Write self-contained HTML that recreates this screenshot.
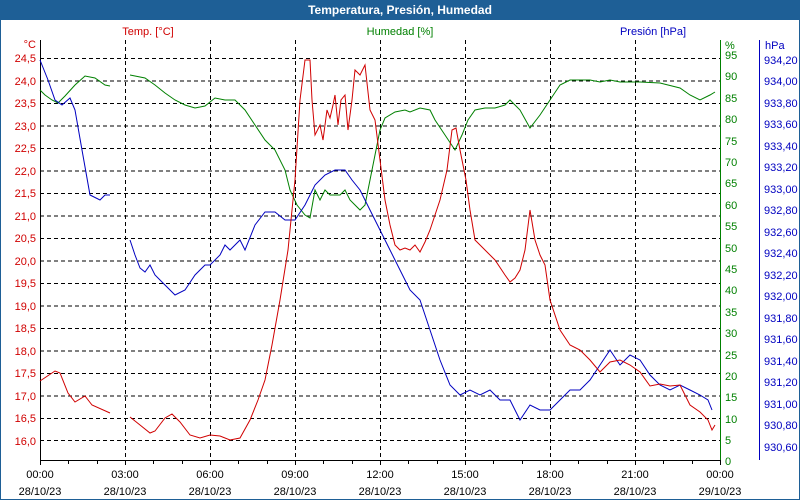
<!DOCTYPE html>
<html><head><meta charset="utf-8"><style>
html,body{margin:0;padding:0;background:#fff}
svg{display:block;font-family:"Liberation Sans","DejaVu Sans",sans-serif}
</style></head><body>
<svg width="800" height="500" viewBox="0 0 800 500" xmlns="http://www.w3.org/2000/svg">
<rect x="0" y="0" width="800" height="500" fill="#fff"/>
<rect x="0.5" y="0.5" width="799" height="499" fill="none" stroke="#1e5f96"/>
<rect x="0" y="0" width="800" height="20" fill="#1e5f96"/>
<text x="400" y="14" font-size="12" font-weight="bold" fill="#fff" text-anchor="middle">Temperatura, Presión, Humedad</text>
<g stroke="#000" stroke-dasharray="4,3" stroke-width="1" fill="none">
<path d="M40 58.5H720M40 81H720M40 103.5H720M40 126H720M40 148.5H720M40 171H720M40 193.5H720M40 216H720M40 238.5H720M40 261H720M40 283.5H720M40 306H720M40 328.5H720M40 351H720M40 373.5H720M40 396H720M40 418.5H720M40 440.5H720"/>
<path d="M125.5 40V460M210.5 40V460M295.5 40V460M380.5 40V460M465.5 40V460M550.5 40V460M635.5 40V460"/>
</g>
<g stroke="#000" stroke-width="1" fill="none">
<path d="M40.5 40V460.5H720"/>
<path d="M40.5 460v5M68.5 460v4M97.5 460v4M125.5 460v5M153.5 460v4M182.5 460v4M210.5 460v5M238.5 460v4M267.5 460v4M295.5 460v5M323.5 460v4M352.5 460v4M380.5 460v5M408.5 460v4M437.5 460v4M465.5 460v5M493.5 460v4M522.5 460v4M550.5 460v5M578.5 460v4M607.5 460v4M635.5 460v5M663.5 460v4M692.5 460v4M720.5 460v5"/>
</g>
<path d="M720.5 40V460" stroke="#008000" fill="none"/>
<path d="M759.5 40V460" stroke="#0000c0" fill="none"/>
<g font-size="11" fill="#d00000" text-anchor="end">
<text x="36" y="48">°C</text>
<text x="36" y="62">24,5</text><text x="36" y="85">24,0</text><text x="36" y="107">23,5</text><text x="36" y="130">23,0</text><text x="36" y="152">22,5</text><text x="36" y="175">22,0</text><text x="36" y="197">21,5</text><text x="36" y="220">21,0</text><text x="36" y="242">20,5</text><text x="36" y="265">20,0</text><text x="36" y="287">19,5</text><text x="36" y="310">19,0</text><text x="36" y="332">18,5</text><text x="36" y="355">18,0</text><text x="36" y="377">17,5</text><text x="36" y="400">17,0</text><text x="36" y="422">16,5</text><text x="36" y="445">16,0</text>
</g>
<text x="148" y="35" font-size="11" fill="#d00000" text-anchor="middle">Temp. [°C]</text>
<text x="400" y="35" font-size="11" fill="#008000" text-anchor="middle">Humedad [%]</text>
<text x="653" y="35" font-size="11" fill="#0000c0" text-anchor="middle">Presión [hPa]</text>
<g font-size="11" fill="#008000">
<text x="725" y="49">%</text>
<text x="725" y="59">95</text><text x="725" y="80">90</text><text x="725" y="102">85</text><text x="725" y="123">80</text><text x="725" y="145">75</text><text x="725" y="166">70</text><text x="725" y="187">65</text><text x="725" y="209">60</text><text x="725" y="230">55</text><text x="725" y="252">50</text><text x="725" y="273">45</text><text x="725" y="294">40</text><text x="725" y="316">35</text><text x="725" y="337">30</text><text x="725" y="359">25</text><text x="725" y="380">20</text><text x="725" y="401">15</text><text x="725" y="423">10</text><text x="725" y="444">5</text><text x="725" y="465">0</text>
</g>
<g font-size="11" fill="#0000c0">
<text x="765" y="49">hPa</text>
<text x="764" y="64">934,20</text><text x="764" y="85">934,00</text><text x="764" y="107">933,80</text><text x="764" y="128">933,60</text><text x="764" y="150">933,40</text><text x="764" y="171">933,20</text><text x="764" y="193">933,00</text><text x="764" y="214">932,80</text><text x="764" y="236">932,60</text><text x="764" y="257">932,40</text><text x="764" y="279">932,20</text><text x="764" y="300">932,00</text><text x="764" y="322">931,80</text><text x="764" y="343">931,60</text><text x="764" y="365">931,40</text><text x="764" y="386">931,20</text><text x="764" y="408">931,00</text><text x="764" y="429">930,80</text><text x="764" y="451">930,60</text>
</g>
<g font-size="11" fill="#000" text-anchor="middle">
<text x="40" y="478">00:00</text><text x="40" y="495">28/10/23</text>
<text x="125" y="478">03:00</text><text x="125" y="495">28/10/23</text>
<text x="210" y="478">06:00</text><text x="210" y="495">28/10/23</text>
<text x="295" y="478">09:00</text><text x="295" y="495">28/10/23</text>
<text x="380" y="478">12:00</text><text x="380" y="495">28/10/23</text>
<text x="465" y="478">15:00</text><text x="465" y="495">28/10/23</text>
<text x="550" y="478">18:00</text><text x="550" y="495">28/10/23</text>
<text x="635" y="478">21:00</text><text x="635" y="495">28/10/23</text>
<text x="720" y="478">00:00</text><text x="720" y="495">29/10/23</text>
</g>
<g fill="none" stroke-width="1">
<path stroke="#008000" d="M40 90L45 95L52 100L58 103L65 96L75 85L85 76L95 78L105 85L110 86M130 75L145 78L155 85L165 93L175 100L185 105L195 108L205 106L215 98L225 100L235 100L245 110L255 125L265 140L275 150L285 170L290 190L297 205L305 215L310 218L315 190L320 200L325 190L330 195L340 195L345 190L350 200L355 205L360 210L365 205L370 180L375 155L380 130L385 118L395 112L405 110L410 112L420 108L430 110L435 120L445 135L455 150L462 135L468 120L475 110L485 108L495 108L505 105L510 100L520 110L530 128L540 115L550 100L560 85L570 80L590 80L600 82L610 80L620 82L640 82L660 83L680 88L690 95L700 100L710 95L715 92"/>
<path stroke="#0000c0" d="M40 60L48 80L55 100L62 105L70 98L75 110L82 150L90 195L100 200L105 195L110 195M130 240L135 255L140 268L145 272L150 265L155 275L165 285L175 295L185 290L195 275L205 265L210 265L220 255L225 245L230 250L240 240L245 250L255 225L265 212L275 212L285 220L295 220L305 205L315 185L325 175L335 170L345 170L352 180L360 190L370 210L380 230L390 250L400 270L410 290L420 300L430 330L440 360L450 385L460 395L470 390L480 395L490 390L500 400L510 400L520 420L530 405L540 410L550 410L560 400L570 390L580 390L590 380L600 365L610 350L620 365L630 355L640 360L650 375L660 385L670 390L680 385L690 390L700 395L708 400L712 410"/>
<path stroke="#d00000" d="M40 381L55 371L60 373L68 393L75 402L85 396L92 405L110 413M130 417L140 425L150 433L155 431L165 418L172 414L180 422L190 435L200 438L210 435L220 436L230 440L240 438L250 420L258 400L265 380L272 345L280 300L288 250L295 180L300 100L305 60L310 60L312 100L315 135L320 125L323 140L327 110L330 118L333 105L335 95L338 125L341 100L345 95L348 130L352 100L355 70L360 75L365 65L370 110L375 120L380 160L385 200L390 225L395 245L400 250L405 248L410 250L415 245L420 252L425 242L430 230L435 215L440 200L447 170L452 130L456 128L460 150L466 180L470 210L475 240L485 250L495 260L505 275L510 282L515 278L520 270L525 250L530 210L535 240L540 255L545 265L550 300L560 330L570 345L580 350L590 360L600 372L610 362L620 360L630 365L640 372L650 386L660 384L670 386L680 385L690 405L700 412L708 420L712 430L715 425"/>
</g>
</svg>
</body></html>
